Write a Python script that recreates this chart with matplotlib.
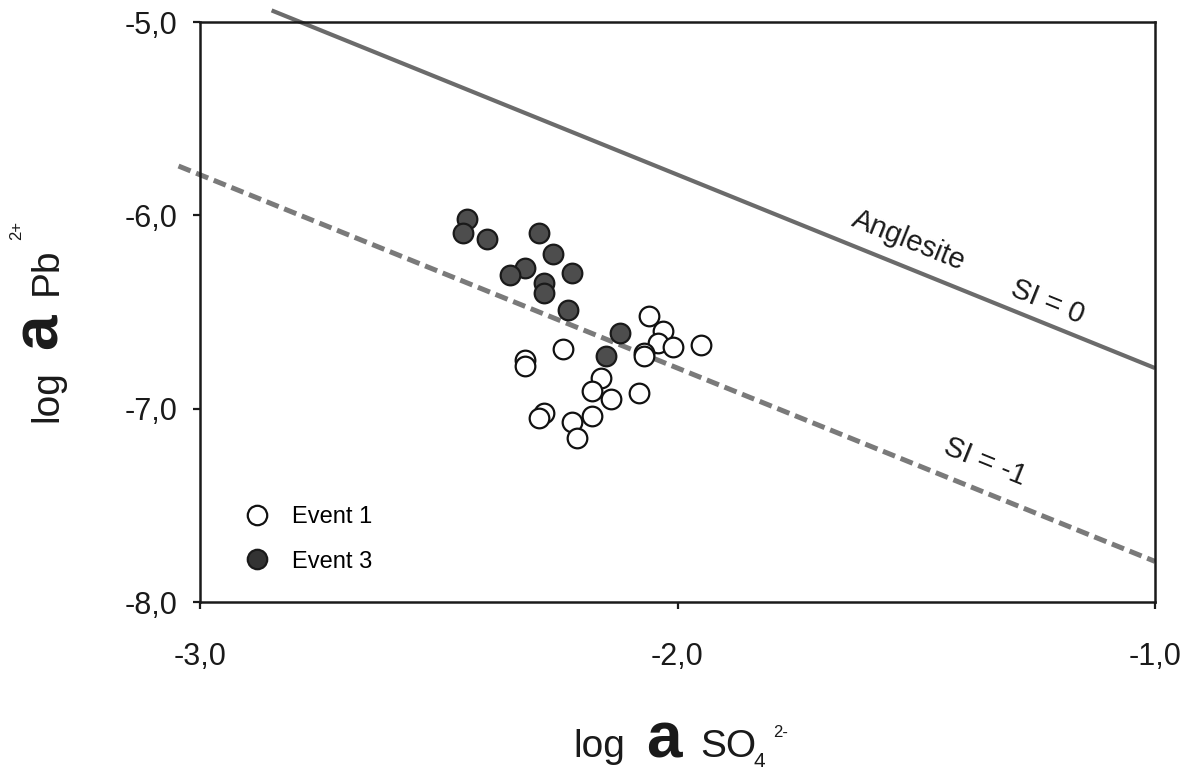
import matplotlib
matplotlib.use("Agg")
import matplotlib.pyplot as plt
from matplotlib.lines import Line2D

plt.rcParams['font.family'] = ['Liberation Sans', 'DejaVu Sans']

# log a SO4(2-) / log a Pb(2+) for the two sampling events
event1_x = [-2.06, -2.03, -2.04, -2.01, -2.07, -2.07, -1.95, -2.24, -2.32, -2.32,
            -2.16, -2.18, -2.14, -2.08, -2.28, -2.29, -2.18, -2.22, -2.21]
event1_y = [-6.52, -6.60, -6.66, -6.68, -6.71, -6.73, -6.67, -6.69, -6.75, -6.78,
            -6.84, -6.91, -6.95, -6.92, -7.02, -7.05, -7.04, -7.07, -7.15]
event3_x = [-2.44, -2.45, -2.40, -2.29, -2.26, -2.32, -2.35, -2.28, -2.28, -2.22,
            -2.23, -2.12, -2.15]
event3_y = [-6.02, -6.09, -6.12, -6.09, -6.20, -6.27, -6.31, -6.35, -6.40, -6.30,
            -6.49, -6.61, -6.73]

# anglesite saturation lines (log Ksp = -7.79)
si0_x = [-2.85, -1.00]
si0_y = [-4.94, -6.79]
si1_x = [-3.045, -1.00]
si1_y = [-5.745, -7.79]

xticks = [-3.0, -2.0, -1.0]
yticks = [-8.0, -7.0, -6.0, -5.0]
legend_labels = ['Event 1', 'Event 3']

W, H = 1196, 774
fig = plt.figure(figsize=(W / 100, H / 100), dpi=100)
ax = fig.add_axes([200 / W, 1 - 602 / H, 955 / W, 580 / H])
ax.set_xlim(-3, -1)
ax.set_ylim(-8, -5)

ax.plot(si0_x, si0_y, color='#6b6b6b', lw=3.0, clip_on=False, zorder=2,
        solid_capstyle='butt')
ax.plot(si1_x, si1_y, color='#7a7a7a', lw=3.6, clip_on=False, zorder=2,
        linestyle=(0, (2.6, 1.2)))

ax.scatter(event3_x, event3_y, s=200, facecolor='#4d4d4d', edgecolor='#1a1a1a',
           linewidth=1.6, zorder=3)
ax.scatter(event1_x, event1_y, s=200, facecolor='white', edgecolor='#111111',
           linewidth=1.6, zorder=4)

# line labels, rotated along slope -1 in data space
lab = dict(rotation=-45, transform_rotates_text=True, rotation_mode='anchor',
           ha='center', va='center', fontsize=21, color='#1a1a1a')
ax.text(-1.515, -6.128, 'Anglesite', **lab)
ax.text(-1.226, -6.449, 'SI = 0', **lab)
ax.text(-1.356, -7.276, 'SI = -1', **lab)

handles = [
    Line2D([], [], ls='none', marker='o', markersize=14, mfc='white',
           mec='#111111', mew=1.6),
    Line2D([], [], ls='none', marker='o', markersize=14, mfc='#333333',
           mec='#1a1a1a', mew=1.6),
]
ax.legend(handles, legend_labels, loc='upper left',
          bbox_to_anchor=(45 / 955, (602 - 506) / 580), frameon=False,
          fontsize=17, handlelength=1.0, handletextpad=1.0, labelspacing=0.96,
          borderpad=0, borderaxespad=0)

ax.set_xticks(xticks)
ax.set_yticks(yticks)
ax.set_xticklabels([f'{v:.1f}'.replace('.', ',') for v in xticks])
ax.set_yticklabels([f'{v:.1f}'.replace('.', ',') for v in yticks])
ax.tick_params(axis='both', direction='out', length=5, width=1.6,
               color='#1a1a1a', labelsize=22, labelcolor='#1a1a1a')
ax.tick_params(axis='x', pad=24)
ax.tick_params(axis='y', pad=11)
for sp in ax.spines.values():
    sp.set_linewidth(1.8)
    sp.set_color('#1a1a1a')


def fx(px):
    return px / W


def fy(py):
    return 1 - py / H


# x axis label: log a SO4 2-
base = 757
xl = dict(color='#1a1a1a', va='baseline', ha='left')
fig.text(fx(573), fy(base), 'log', fontsize=28, **xl)
fig.text(fx(646), fy(base), 'a', fontsize=46, fontweight='bold', **xl)
fig.text(fx(700), fy(base), 'SO', fontsize=28, **xl)
fig.text(fx(754), fy(base + 10), '4', fontsize=15, **xl)
fig.text(fx(773), fy(base - 20), '2-', fontsize=12, **xl)

# y axis label: log a Pb 2+
bx = 57
yl = dict(color='#1a1a1a', va='baseline', ha='left', rotation=90,
          rotation_mode='anchor')
fig.text(fx(bx), fy(422), 'log', fontsize=28, **yl)
fig.text(fx(bx), fy(422 - 73), 'a', fontsize=46, fontweight='bold', **yl)
fig.text(fx(bx), fy(422 - 127), 'Pb', fontsize=28, **yl)
fig.text(fx(bx - 36), fy(422 - 182), '2+', fontsize=12, **yl)

fig.savefig('out.png', dpi=100)
